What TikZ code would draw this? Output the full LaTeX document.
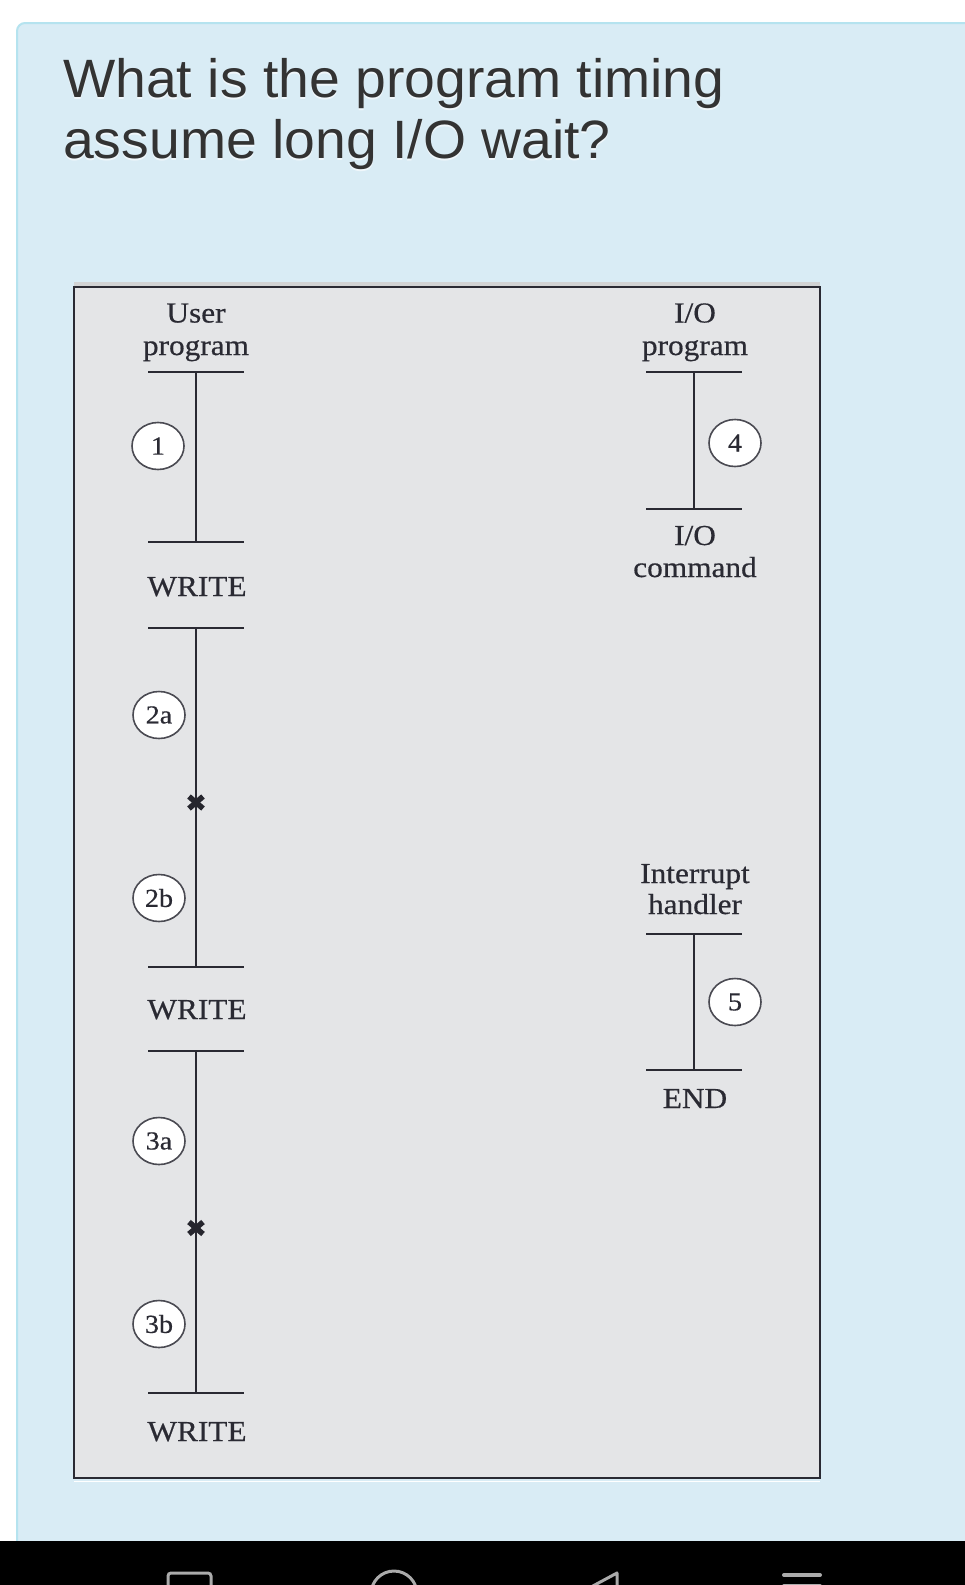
\documentclass[tikz,border=0pt]{standalone}
\usepackage{fontspec}
\usetikzlibrary{shapes.geometric}
\newfontfamily\titlefont[FakeStretch=1.025]{Liberation Sans}
\newfontfamily\diagfont[FakeStretch=1.08,FakeBold=0.5]{Liberation Serif}
\definecolor{panelbg}{HTML}{D9ECF5}
\definecolor{panelborder}{HTML}{B5E3EF}
\definecolor{boxbg}{HTML}{E4E5E7}
\definecolor{inkc}{HTML}{2A2A33}
\definecolor{titlec}{HTML}{333333}
\definecolor{navgray}{HTML}{ABABAB}
\begin{document}
\begin{tikzpicture}[x=1pt,y=-1pt,
  titletxt/.style={font=\titlefont\fontsize{54}{61}\selectfont, text=titlec, inner sep=0pt, anchor=base west},
  titleshadow/.style={font=\titlefont\fontsize{54}{61}\selectfont, text=white!60!panelbg, inner sep=0pt, anchor=base west},
  lbl/.style={font=\diagfont\fontsize{29}{32}\selectfont, text=inkc, inner sep=0pt, anchor=base},
  num/.style={ellipse, draw=inkc!85, line width=1.6pt, fill=white, minimum width=52pt, minimum height=47pt, inner sep=0pt, font=\diagfont\fontsize{26}{26}\selectfont, text=inkc},
  bar/.style={draw=inkc, line width=2pt},
  xm/.style={draw=inkc!90!black, line width=5.5pt},
  nav/.style={draw=navgray, line width=3pt}]
\useasboundingbox (0,0) rectangle (965,1585);
\clip (0,0) rectangle (965,1585);
\fill[white] (0,0) rectangle (965,1585);
% panel
\fill[panelbg, draw=panelborder, line width=2pt, rounded corners=8pt] (17,23) rectangle (1000,1600);
% title
\node[titleshadow] (t1s) at (63,99) {What is the program timing};
\node[titleshadow] (t2s) at (63,160) {assume long I/O wait?};
\node[titletxt] (t1) at (63,97.5) {What is the program timing};
\node[titletxt] (t2) at (63,158.5) {assume long I/O wait?};
% inner box
\fill[boxbg!92!black] (74,282) rectangle (820,287);
\draw[white, line width=1pt] (74,1481) -- (820,1481);
\draw[fill=boxbg, draw=inkc, line width=1.8pt] (74,287) rectangle (820,1478);
% coordinates of bars
\coordinate (u1t) at (196,372);
\coordinate (u1b) at (196,542);
\coordinate (u2t) at (196,627.5);
\coordinate (u2b) at (196,967);
\coordinate (u3t) at (196,1051);
\coordinate (u3b) at (196,1392.5);
\coordinate (r1t) at (694,372);
\coordinate (r1b) at (694,509);
\coordinate (r2t) at (694,934);
\coordinate (r2b) at (694,1070);
% horizontal bars
\foreach \c in {u1t,u1b,u2t,u2b,u3t,u3b,r1t,r1b,r2t,r2b}
  \draw[bar] ([xshift=-48pt]\c) -- ([xshift=48pt]\c);
% vertical lines
\draw[bar] (u1t) -- (u1b);
\draw[bar] (u2t) -- (u2b);
\draw[bar] (u3t) -- (u3b);
\draw[bar] (r1t) -- (r1b);
\draw[bar] (r2t) -- (r2b);
% x marks
\coordinate (x2) at (196,802.5);
\coordinate (x3) at (196,1228);
\foreach \c in {x2,x3}{
  \draw[xm] ([shift={(-7,-6)}]\c) -- ([shift={(7,6)}]\c);
  \draw[xm] ([shift={(-7,6)}]\c) -- ([shift={(7,-6)}]\c);
}
% labels
\node[lbl] (luser) at (196,322.5) {User};
\node[lbl] (luprog) at (196,355) {program};
\node[lbl] (lio) at (695,322.5) {I/O};
\node[lbl] (lioprog) at (695,355) {program};
\node[lbl] (lw1) at (197,596) {WRITE};
\node[lbl] (lw2) at (197,1019) {WRITE};
\node[lbl] (lw3) at (197,1441) {WRITE};
\node[lbl] (liocmd1) at (695,545) {I/O};
\node[lbl] (liocmd2) at (695,577) {command};
\node[lbl] (lint1) at (695,883) {Interrupt};
\node[lbl] (lint2) at (695,914) {handler};
\node[lbl] (lend) at (695,1108) {END};
% numbered circles
\node[num] (c1) at (158,446) {1};
\node[num] (c4) at (735,443) {4};
\node[num] (c2a) at (159,715) {2a};
\node[num] (c2b) at (159,898) {2b};
\node[num] (c3a) at (159,1141) {3a};
\node[num] (c3b) at (159,1324) {3b};
\node[num] (c5) at (735,1002) {5};
% navigation bar
\fill[black] (0,1541) rectangle (965,1585);
\draw[nav, rounded corners=3pt] (168,1610) rectangle (211,1573);
\draw[nav] (394,1594) circle (23);
\draw[nav, line join=round] (617,1573) -- (617,1616) -- (578,1594) -- cycle;
\draw[draw=navgray, line width=4pt, line cap=round] (784,1575) -- (820,1575);
\draw[draw=navgray, line width=4pt, line cap=round] (784,1586) -- (820,1586);
\end{tikzpicture}
\end{document}
